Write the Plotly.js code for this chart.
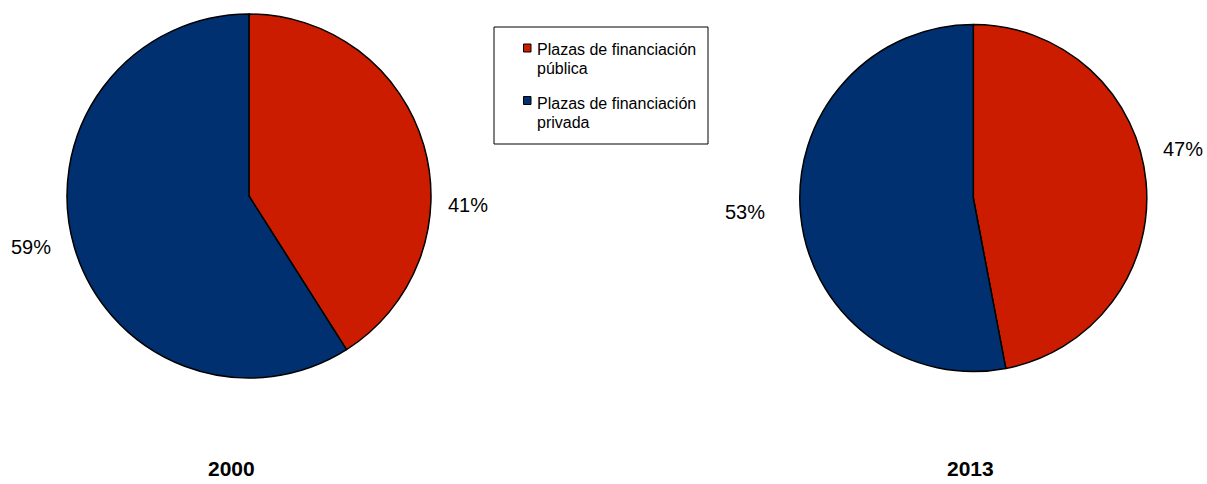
<!DOCTYPE html>
<html>
<head>
<meta charset="utf-8">
<script src="https://cdn.plot.ly/plotly-3.0.1.min.js"></script>
<style>html,body{margin:0;padding:0;background:#fff;}#chart{width:1207px;height:484px;}</style>
</head>
<body>
<div id="chart"></div>
<script>
// ---- data ----
const categories = ['Plazas de financiación pública', 'Plazas de financiación privada'];
const years = ['2000', '2013'];
const values2000 = [41, 59];
const values2013 = [47, 53];
const colors = ['#CC1C00', '#00306F'];

const W = 1207, H = 484;
const px = x => x / W;
const py = y => 1 - y / H;
const FONT = 'Liberation Sans, Arial, sans-serif';

function pieTrace(vals, cx, cy, r) {
  return {
    type: 'pie',
    values: vals,
    labels: categories,
    sort: false,
    direction: 'clockwise',
    rotation: 0,
    textinfo: 'none',
    hoverinfo: 'label+percent',
    marker: { colors: colors, line: { color: '#000', width: 1.5 } },
    domain: { x: [px(cx - r), px(cx + r)], y: [py(cy + r), py(cy - r)] },
    showlegend: false
  };
}

const data = [
  pieTrace(values2000, 249, 196, 182),
  pieTrace(values2013, 973.3, 198, 173.5)
];

function pct(vals, i) {
  const s = vals.reduce((a, b) => a + b, 0);
  return Math.round(vals[i] / s * 100) + '%';
}

const annotations = [];
function lab(text, x, y, size, bold, anchor) {
  annotations.push({
    xref: 'paper', yref: 'paper', x: px(x), y: py(y),
    xanchor: anchor || 'center', yanchor: 'middle', showarrow: false,
    text: bold ? '<b>' + text + '</b>' : text,
    font: { family: FONT, size: size, color: '#000' }
  });
}
// percentage labels
lab(pct(values2000, 0), 468, 205, 20);
lab(pct(values2000, 1), 31, 246.5, 20);
lab(pct(values2013, 0), 1183, 149, 20);
lab(pct(values2013, 1), 745, 211.5, 20);
// year titles
lab(years[0], 231, 468, 21, true);
lab(years[1], 970, 468, 21, true);

// legend (manual)
const shapes = [{
  type: 'rect', xref: 'paper', yref: 'paper',
  x0: px(494), x1: px(708), y0: py(144), y1: py(27),
  line: { color: '#000', width: 1 }, fillcolor: 'rgba(0,0,0,0)'
}];
const swatchY = [48, 100.5];
const textY = [49, 103];
categories.forEach((c, i) => {
  const yc = swatchY[i];
  shapes.push({
    type: 'rect', xref: 'paper', yref: 'paper',
    x0: px(523.5), x1: px(531), y0: py(yc + 4), y1: py(yc - 4),
    line: { color: '#000', width: 1 }, fillcolor: colors[i]
  });
  const idx = c.lastIndexOf(' ');
  lab(c.slice(0, idx), 535, textY[i], 16, false, 'left');
  lab(c.slice(idx + 1), 535, textY[i] + 19.5, 16, false, 'left');
});

const layout = {
  width: W, height: H,
  margin: { l: 0, r: 0, t: 0, b: 0 },
  paper_bgcolor: '#fff', plot_bgcolor: '#fff',
  showlegend: false,
  font: { family: FONT },
  annotations: annotations,
  shapes: shapes
};

Plotly.newPlot('chart', data, layout, { staticPlot: true });
</script>
</body>
</html>
